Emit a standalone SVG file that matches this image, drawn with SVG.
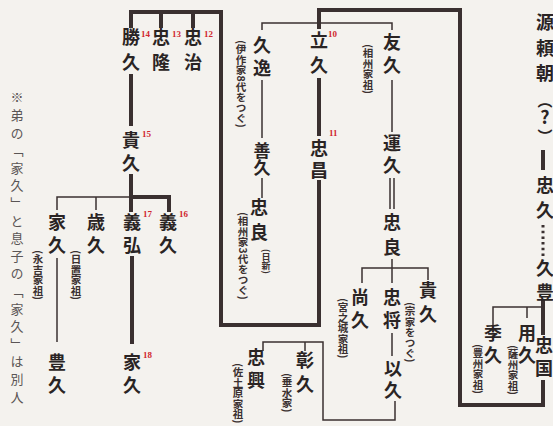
<svg xmlns="http://www.w3.org/2000/svg" width="553" height="426" viewBox="0 0 553 426">
<style>
.bg{fill:#f4f2ee}
.n{font-family:"Noto Sans CJK JP","Noto Sans CJK SC",sans-serif;font-size:18px;font-weight:bold;fill:#2a2424;text-anchor:middle}
.a{font-family:"Noto Sans CJK JP","Noto Sans CJK SC",sans-serif;font-size:10.5px;fill:#3a3030;writing-mode:vertical-rl;font-weight:bold}
.note{font-family:"Noto Sans CJK JP","Noto Sans CJK SC",serif;font-size:13px;fill:#5a5555;writing-mode:vertical-rl;letter-spacing:4.6px}
.num{font-family:"Liberation Serif",serif;font-size:9px;fill:#d0282e;font-weight:bold}
.k{stroke:#3a3030;stroke-width:4;fill:none;stroke-linecap:square}
.t{stroke:#3a3030;stroke-width:1.5;fill:none}
</style>
<rect class="bg" x="0" y="0" width="553" height="426"/>
<g id="connectors">
<polyline class="k" points="543,382 543,405 460,405 460,10 319,10 319,27"/>
<line class="k" x1="319" y1="80" x2="319" y2="134"/>
<polyline class="k" points="319,182 319,325 221,325 221,12 131,12 131,26"/>
<line class="k" x1="161" y1="12" x2="161" y2="26"/>
<line class="k" x1="193" y1="12" x2="193" y2="26"/>
<line class="k" x1="131" y1="76" x2="131" y2="124"/>
<polyline class="k" points="131,176 131,210"/>
<polyline class="k" points="131,197 169,197 169,210"/>
<line class="k" x1="132" y1="258" x2="132" y2="342"/>
<polyline class="t" points="57,210 57,197 131,197"/>
<line class="t" x1="96" y1="197" x2="96" y2="210"/>
<line class="t" x1="57" y1="258" x2="57" y2="342"/>
<polyline class="t" points="262,30 262,23 392,23 392,30"/>
<line class="t" x1="262" y1="80" x2="262" y2="138"/>
<line class="t" x1="262" y1="178" x2="262" y2="198"/>
<line class="t" x1="392" y1="80" x2="392" y2="132"/>
<line class="t" x1="390" y1="178" x2="390" y2="209"/>
<line class="t" x1="394" y1="178" x2="394" y2="209"/>
<line class="t" x1="392" y1="259" x2="392" y2="283"/>
<polyline class="t" points="362,283 362,268 428,268 428,280"/>
<line class="t" x1="392" y1="333" x2="392" y2="356"/>
<polyline class="t" points="395,401 395,420 323,420 323,342 263,342 263,351"/>
<line class="t" x1="305" y1="342" x2="305" y2="351"/>
<line class="k" x1="543" y1="152" x2="543" y2="168"/>
<line x1="543" y1="225" x2="543" y2="259" stroke="#3a3030" stroke-width="3" stroke-dasharray="2.5,3.2"/>
<line class="k" x1="543" y1="302" x2="543" y2="333"/>
<polyline class="t" points="493,325 493,307 543,307"/>
<line class="t" x1="527" y1="307" x2="527" y2="318"/>
</g>
<g id="n-yoritomo"><text class="n" x="545" y="29">源</text><text class="n" x="545" y="55">頼</text><text class="n" x="545" y="80">朝</text><text class="n" x="545" y="106" style="font-size:15px">︵</text><text class="n" x="545" y="124">?</text><text class="n" x="545" y="142" style="font-size:15px">︶</text></g>
<g id="n-tadahisa"><text class="n" x="545" y="192">忠</text><text class="n" x="545" y="217">久</text></g>
<g id="n-hisatoyo"><text class="n" x="545" y="275">久</text><text class="n" x="545" y="299">豊</text></g>
<g id="n-tadakuni"><text class="n" x="544" y="352">忠</text><text class="n" x="544" y="375">国</text></g>
<g id="n-mochihisa"><text class="n" x="527" y="340">用</text><text class="n" x="527" y="362">久</text><text class="a" x="513" y="345">(薩州家祖)</text></g>
<g id="n-suehisa"><text class="n" x="493" y="340">季</text><text class="n" x="493" y="362">久</text><text class="a" x="478" y="344">(豊州家祖)</text></g>
<g id="n-tatehisa"><text class="n" x="319" y="47">立</text><text class="n" x="319" y="72">久</text><text class="num" x="328" y="37">10</text></g>
<g id="n-tadamasa"><text class="n" x="319" y="155">忠</text><text class="n" x="319" y="177">昌</text><text class="num" x="329" y="136">11</text></g>
<g id="n-hisayasu"><text class="n" x="262" y="52">久</text><text class="n" x="262" y="75">逸</text><text class="a" x="241" y="40">(伊作家8代をつぐ)</text></g>
<g id="n-yoshihisa0"><text class="n" x="262" y="157" style="font-size:17px">善</text><text class="n" x="262" y="174" style="font-size:17px">久</text></g>
<g id="n-tadayoshi"><text class="n" x="259" y="214">忠</text><text class="n" x="259" y="239">良</text><text class="a" x="266" y="249" style="font-size:9px">(日新)</text><text class="a" x="243" y="212">(相州家3代をつぐ)</text></g>
<g id="n-tomohisa"><text class="n" x="392" y="49">友</text><text class="n" x="392" y="72">久</text><text class="a" x="368" y="44">(相州家祖)</text></g>
<g id="n-unkyu"><text class="n" x="392" y="150">運</text><text class="n" x="392" y="172">久</text></g>
<g id="n-tadayoshi2"><text class="n" x="392" y="229">忠</text><text class="n" x="392" y="254">良</text></g>
<g id="n-naohisa"><text class="n" x="360" y="304">尚</text><text class="n" x="360" y="327">久</text><text class="a" x="343" y="298">(宮之城家祖)</text></g>
<g id="n-tadamasa2"><text class="n" x="392" y="304">忠</text><text class="n" x="392" y="327">将</text></g>
<g id="n-mochihisa2"><text class="n" x="393" y="375">以</text><text class="n" x="393" y="397">久</text></g>
<g id="n-takahisa"><text class="n" x="428" y="297">貴</text><text class="n" x="428" y="321">久</text><text class="a" x="410" y="302">(宗家をつぐ)</text></g>
<g id="n-tadaoki"><text class="n" x="256" y="364">忠</text><text class="n" x="256" y="387">興</text><text class="a" x="238" y="363">(佐土原家祖)</text></g>
<g id="n-akihisa"><text class="n" x="305" y="367">彰</text><text class="n" x="305" y="391">久</text><text class="a" x="287" y="373">(垂水家)</text></g>
<g id="n-tadaharu"><text class="n" x="193" y="44">忠</text><text class="n" x="193" y="69">治</text><text class="num" x="204" y="37">12</text></g>
<g id="n-tadataka"><text class="n" x="161" y="44">忠</text><text class="n" x="161" y="69">隆</text><text class="num" x="172" y="37">13</text></g>
<g id="n-katsuhisa"><text class="n" x="131" y="44">勝</text><text class="n" x="131" y="69">久</text><text class="num" x="141" y="37">14</text></g>
<g id="n-takahisa2"><text class="n" x="131" y="147">貴</text><text class="n" x="131" y="170">久</text><text class="num" x="142" y="137">15</text></g>
<g id="n-yoshihisa"><text class="n" x="168" y="229">義</text><text class="n" x="168" y="252">久</text><text class="num" x="179" y="217">16</text></g>
<g id="n-yoshihiro"><text class="n" x="132" y="229">義</text><text class="n" x="132" y="252">弘</text><text class="num" x="143" y="217">17</text></g>
<g id="n-toshihisa"><text class="n" x="96" y="229">歳</text><text class="n" x="96" y="252">久</text><text class="a" x="76" y="250">(日置家祖)</text></g>
<g id="n-iehisa"><text class="n" x="57" y="229">家</text><text class="n" x="57" y="252">久</text><text class="a" x="38" y="250">(永吉家祖)</text></g>
<g id="n-toyohisa"><text class="n" x="57" y="369">豊</text><text class="n" x="57" y="392">久</text></g>
<g id="n-iehisa2"><text class="n" x="132" y="369">家</text><text class="n" x="132" y="392">久</text><text class="num" x="143" y="358">18</text></g>
<text class="note" x="17" y="91">※弟の「家久」と息子の「家久」は別人</text>
</svg>
